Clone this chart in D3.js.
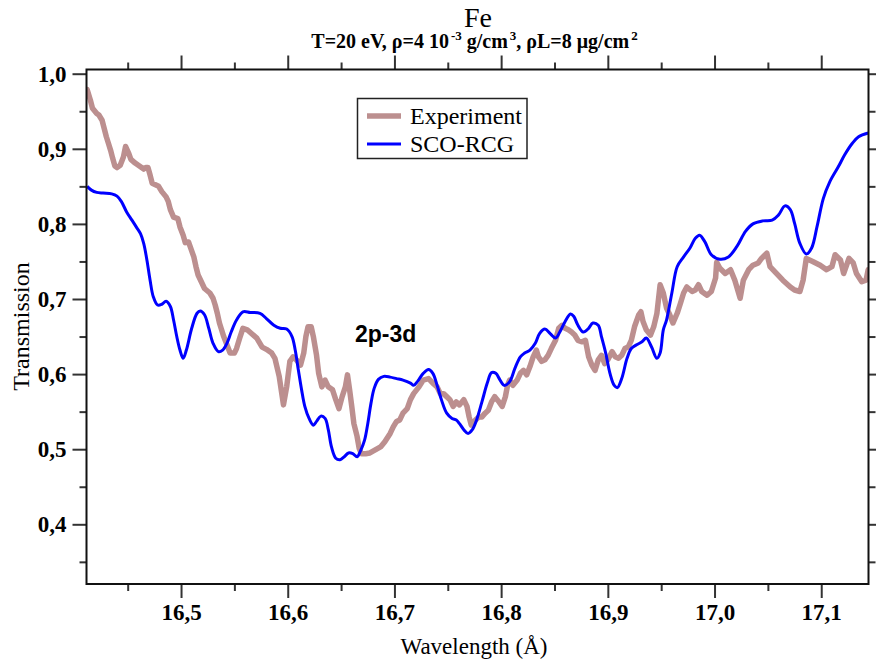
<!DOCTYPE html>
<html>
<head>
<meta charset="utf-8">
<script src="https://cdn.jsdelivr.net/npm/d3@7"></script>
<style>
  html, body { margin: 0; padding: 0; background: #fff; }
  svg { display: block; }
</style>
</head>
<body>
<script>
// Measured transmission of the Fe sample (wavelength in Å)
const expWavelength = [
  16.412,16.415,16.417,16.421,16.423,16.426,16.428,16.430,16.432,16.434,16.436,16.438,16.440,16.443,16.446,16.448,
  16.451,16.453,16.457,16.461,16.465,16.467,16.469,16.471,16.473,16.476,16.479,16.482,16.486,16.488,16.490,16.493,
  16.497,16.499,16.502,16.504,16.507,16.509,16.512,16.514,16.516,16.519,16.522,16.527,16.530,16.532,16.534,16.536,
  16.538,16.540,16.543,16.546,16.550,16.552,16.555,16.558,16.562,16.566,16.571,16.576,16.580,16.585,16.588,16.592,
  16.596,16.599,16.602,16.605,16.608,16.612,16.615,16.617,16.619,16.622,16.624,16.627,16.629,16.632,16.635,16.638,
  16.642,16.645,16.648,16.651,16.654,16.656,16.658,16.660,16.662,16.665,16.667,16.669,16.673,16.677,16.682,16.687,
  16.691,16.696,16.699,16.702,16.705,16.708,16.712,16.715,16.718,16.723,16.727,16.732,16.736,16.740,16.743,16.746,
  16.749,16.752,16.755,16.758,16.761,16.765,16.768,16.770,16.772,16.776,16.779,16.782,16.785,16.788,16.791,16.794,
  16.798,16.801,16.804,16.806,16.808,16.811,16.815,16.818,16.821,16.824,16.827,16.830,16.833,16.835,16.838,16.841,
  16.844,16.847,16.851,16.854,16.857,16.860,16.863,16.866,16.869,16.872,16.876,16.879,16.882,16.885,16.888,16.891,
  16.894,16.897,16.900,16.904,16.907,16.910,16.913,16.916,16.919,16.922,16.925,16.929,16.931,16.933,16.936,16.940,
  16.943,16.946,16.949,16.952,16.955,16.958,16.961,16.965,16.968,16.971,16.974,16.979,16.982,16.985,16.988,16.993,
  16.997,17.001,17.002,17.005,17.010,17.015,17.019,17.024,17.027,17.032,17.036,17.041,17.044,17.049,17.052,17.058,
  17.064,17.071,17.075,17.080,17.083,17.086,17.092,17.099,17.105,17.110,17.113,17.118,17.121,17.126,17.130,17.133,
  17.138,17.142,17.144
];
const expTransmission = [
  0.979,0.965,0.954,0.947,0.945,0.938,0.927,0.916,0.907,0.898,0.887,0.877,0.875,0.878,0.889,0.903,
  0.894,0.886,0.881,0.877,0.873,0.875,0.875,0.865,0.854,0.852,0.850,0.843,0.836,0.830,0.819,0.809,
  0.807,0.796,0.785,0.775,0.776,0.768,0.756,0.743,0.732,0.723,0.714,0.708,0.701,0.692,0.681,0.668,
  0.659,0.650,0.639,0.628,0.628,0.634,0.648,0.661,0.659,0.654,0.648,0.636,0.633,0.628,0.621,0.597,
  0.559,0.583,0.617,0.623,0.619,0.612,0.628,0.650,0.663,0.663,0.650,0.625,0.601,0.583,0.592,0.583,
  0.579,0.566,0.554,0.570,0.583,0.599,0.579,0.557,0.534,0.517,0.501,0.494,0.494,0.495,0.499,0.503,
  0.510,0.521,0.530,0.537,0.539,0.548,0.554,0.566,0.574,0.583,0.592,0.594,0.588,0.583,0.574,0.574,
  0.570,0.566,0.557,0.563,0.559,0.566,0.557,0.543,0.532,0.539,0.543,0.543,0.548,0.552,0.563,0.570,
  0.563,0.557,0.570,0.585,0.592,0.585,0.592,0.601,0.605,0.599,0.610,0.623,0.632,0.623,0.617,0.619,
  0.625,0.634,0.645,0.661,0.665,0.661,0.659,0.656,0.652,0.645,0.643,0.645,0.623,0.612,0.605,0.619,
  0.625,0.614,0.619,0.630,0.623,0.621,0.625,0.634,0.636,0.645,0.663,0.679,0.683,0.670,0.659,0.652,
  0.663,0.681,0.719,0.708,0.688,0.679,0.668,0.681,0.694,0.708,0.716,0.710,0.712,0.719,0.710,0.705,
  0.710,0.728,0.749,0.741,0.734,0.739,0.725,0.701,0.725,0.739,0.745,0.748,0.754,0.761,0.743,0.734,
  0.725,0.716,0.712,0.710,0.725,0.754,0.750,0.745,0.739,0.743,0.759,0.752,0.734,0.754,0.748,0.734,
  0.723,0.725,0.739
];

// SCO-RCG calculated transmission
const calcWavelength = [
  16.412,16.416,16.421,16.427,16.435,16.440,16.444,16.449,16.454,16.458,16.462,16.465,16.468,16.471,16.474,16.478,
  16.482,16.486,16.490,16.493,16.496,16.499,16.502,16.505,16.510,16.515,16.518,16.522,16.526,16.530,16.535,16.539,
  16.543,16.547,16.552,16.558,16.565,16.574,16.580,16.587,16.593,16.599,16.604,16.607,16.610,16.613,16.616,16.620,
  16.624,16.627,16.631,16.635,16.638,16.641,16.645,16.649,16.653,16.657,16.661,16.665,16.668,16.672,16.675,16.678,
  16.681,16.685,16.690,16.696,16.702,16.708,16.715,16.718,16.722,16.727,16.732,16.736,16.740,16.744,16.749,16.754,
  16.758,16.761,16.765,16.769,16.773,16.777,16.782,16.787,16.791,16.795,16.799,16.803,16.808,16.813,16.818,16.822,
  16.827,16.832,16.836,16.841,16.846,16.851,16.855,16.860,16.865,16.868,16.872,16.877,16.882,16.886,16.891,16.894,
  16.898,16.902,16.906,16.909,16.913,16.918,16.922,16.927,16.932,16.936,16.941,16.946,16.949,16.952,16.955,16.960,
  16.965,16.971,16.977,16.982,16.986,16.991,16.997,17.005,17.013,17.021,17.029,17.036,17.045,17.054,17.060,17.066,
  17.071,17.075,17.080,17.086,17.091,17.096,17.102,17.108,17.116,17.122,17.129,17.135,17.144
];
const calcTransmission = [
  0.850,0.845,0.842,0.841,0.840,0.837,0.830,0.816,0.805,0.796,0.787,0.774,0.752,0.725,0.703,0.692,
  0.693,0.697,0.690,0.672,0.650,0.632,0.621,0.632,0.661,0.681,0.684,0.679,0.661,0.641,0.630,0.632,
  0.641,0.656,0.672,0.683,0.682,0.681,0.674,0.665,0.661,0.660,0.650,0.632,0.605,0.579,0.557,0.541,
  0.532,0.537,0.544,0.541,0.526,0.503,0.488,0.486,0.490,0.495,0.494,0.490,0.497,0.512,0.534,0.561,
  0.581,0.593,0.597,0.596,0.594,0.592,0.588,0.585,0.591,0.601,0.606,0.601,0.585,0.566,0.548,0.541,
  0.539,0.534,0.526,0.521,0.526,0.539,0.563,0.588,0.602,0.601,0.592,0.585,0.590,0.608,0.623,0.628,
  0.632,0.641,0.654,0.660,0.654,0.648,0.656,0.670,0.680,0.677,0.665,0.656,0.661,0.668,0.665,0.650,
  0.628,0.601,0.585,0.582,0.594,0.621,0.634,0.639,0.643,0.648,0.636,0.621,0.628,0.659,0.672,0.708,
  0.743,0.756,0.768,0.781,0.785,0.776,0.759,0.753,0.756,0.770,0.790,0.800,0.804,0.805,0.812,0.824,
  0.819,0.801,0.774,0.760,0.768,0.796,0.834,0.856,0.876,0.892,0.907,0.916,0.921
];

const seriesNames = ["Experiment", "SCO-RCG"];
const seriesColors = ["#bc8f8f", "#0000ff"];
const xMajorTicks = [16.5, 16.6, 16.7, 16.8, 16.9, 17.0, 17.1];
const xMinorTicks = [16.45, 16.55, 16.65, 16.75, 16.85, 16.95, 17.05];
const yMajorTicks = [0.4, 0.5, 0.6, 0.7, 0.8, 0.9, 1.0];
const yMinorTicks = [0.35, 0.45, 0.55, 0.65, 0.75, 0.85, 0.95];

const W = 876, H = 664;
const margin = { left: 86.5, top: 69.5, right: 7.5, bottom: 80 };
const iw = W - margin.left - margin.right;
const ih = H - margin.top - margin.bottom;
const serif = "'Liberation Serif', 'Times New Roman', serif";

const svg = d3.select("body").append("svg").attr("width", W).attr("height", H);

const x = d3.scaleLinear().domain([16.4114, 17.1443]).range([0, iw]);
const y = d3.scaleLinear().domain([0.3205, 1.0056]).range([ih, 0]);

const g = svg.append("g").attr("transform", `translate(${margin.left},${margin.top})`);

const comma = d => d3.format(".1f")(d).replace(".", ",");

function styleAxis(sel, labels) {
  sel.select(".domain").remove();
  sel.selectAll(".tick line").attr("stroke", "#333").attr("stroke-width", 2);
  if (labels) {
    sel.selectAll(".tick text")
      .attr("font-family", serif).attr("font-size", 23).attr("font-weight", "bold").attr("fill", "#000");
  } else {
    sel.selectAll(".tick text").remove();
  }
}

// Bottom axis
g.append("g").attr("transform", `translate(0,${ih})`)
  .call(d3.axisBottom(x).tickValues(xMajorTicks).tickSize(14).tickPadding(6).tickFormat(comma))
  .call(s => styleAxis(s, true));
g.append("g").attr("transform", `translate(0,${ih})`)
  .call(d3.axisBottom(x).tickValues(xMinorTicks).tickSize(7))
  .call(s => styleAxis(s, false));
// Top axis
g.append("g")
  .call(d3.axisTop(x).tickValues(xMajorTicks).tickSize(14))
  .call(s => styleAxis(s, false));
g.append("g")
  .call(d3.axisTop(x).tickValues(xMinorTicks).tickSize(7))
  .call(s => styleAxis(s, false));
// Left axis
g.append("g")
  .call(d3.axisLeft(y).tickValues(yMajorTicks).tickSize(14).tickPadding(6).tickFormat(comma))
  .call(s => styleAxis(s, true));
g.append("g")
  .call(d3.axisLeft(y).tickValues(yMinorTicks).tickSize(7))
  .call(s => styleAxis(s, false));
// Right axis
g.append("g").attr("transform", `translate(${iw},0)`)
  .call(d3.axisRight(y).tickValues(yMajorTicks).tickSize(14))
  .call(s => styleAxis(s, false));
g.append("g").attr("transform", `translate(${iw},0)`)
  .call(d3.axisRight(y).tickValues(yMinorTicks).tickSize(7))
  .call(s => styleAxis(s, false));

// Curves
g.append("clipPath").attr("id", "plot-clip")
  .append("rect").attr("width", iw).attr("height", ih);

const expData = expWavelength.map((w, i) => [w, expTransmission[i]]);
const calcData = calcWavelength.map((w, i) => [w, calcTransmission[i]]);

const plot = g.append("g").attr("clip-path", "url(#plot-clip)");

plot.append("path").datum(expData)
  .attr("fill", "none").attr("stroke", seriesColors[0]).attr("stroke-width", 5.5)
  .attr("stroke-linejoin", "round").attr("stroke-linecap", "round")
  .attr("d", d3.line().x(d => x(d[0])).y(d => y(d[1])));

plot.append("path").datum(calcData)
  .attr("fill", "none").attr("stroke", seriesColors[1]).attr("stroke-width", 3)
  .attr("stroke-linejoin", "round")
  .attr("d", d3.line().curve(d3.curveCatmullRom.alpha(0.5)).x(d => x(d[0])).y(d => y(d[1])));

// Frame
g.append("rect").attr("width", iw).attr("height", ih)
  .attr("fill", "none").attr("stroke", "#111").attr("stroke-width", 2);

// Annotation
g.append("text").attr("x", 355 - margin.left).attr("y", 342 - margin.top)
  .attr("font-family", "'Liberation Sans', Arial, sans-serif").attr("font-weight", "bold")
  .attr("font-size", 23).attr("fill", "#000").text("2p-3d");

// Legend
const lg = svg.append("g");
lg.append("rect").attr("x", 357.5).attr("y", 98.5).attr("width", 169.5).attr("height", 60)
  .attr("fill", "#fff").attr("stroke", "#222").attr("stroke-width", 1.5);
const rows = [116, 144];
seriesNames.forEach((name, i) => {
  lg.append("line").attr("x1", 367).attr("x2", 401).attr("y1", rows[i]).attr("y2", rows[i])
    .attr("stroke", seriesColors[i]).attr("stroke-width", i === 0 ? 5.5 : 3);
  lg.append("text").attr("x", 410).attr("y", rows[i] + 8)
    .attr("font-family", serif).attr("font-size", 24).attr("fill", "#000").text(name);
});

// Titles
svg.append("text").attr("x", 478).attr("y", 27).attr("text-anchor", "middle")
  .attr("font-family", serif).attr("font-size", 28).attr("fill", "#000").text("Fe");

const sub = svg.append("text").attr("x", 474.5).attr("y", 48).attr("text-anchor", "middle")
  .attr("font-family", serif).attr("font-size", 20).attr("font-weight", "bold").attr("fill", "#000");
const subParts = [
  ["T=20 eV, \u03c1=4 10", false], ["-3", true], [" g/cm", false], ["3", true],
  [", \u03c1L=8 \u03bcg/cm", false], ["2", true]
];
subParts.forEach(([t, sup], i) => {
  const ts = sub.append("tspan").text(t);
  if (sup) ts.attr("font-size", 13).attr("dy", -8).attr("dx", 2);
  else if (i > 0) ts.attr("dy", 8);
});

// Axis titles
svg.append("text").attr("x", 474).attr("y", 654).attr("text-anchor", "middle")
  .attr("font-family", serif).attr("font-size", 23).attr("fill", "#000").text("Wavelength (\u00c5)");
svg.append("text").attr("transform", "translate(29,326.5) rotate(-90)").attr("text-anchor", "middle")
  .attr("font-family", serif).attr("font-size", 24).attr("fill", "#000").text("Transmission");
</script>
</body>
</html>
